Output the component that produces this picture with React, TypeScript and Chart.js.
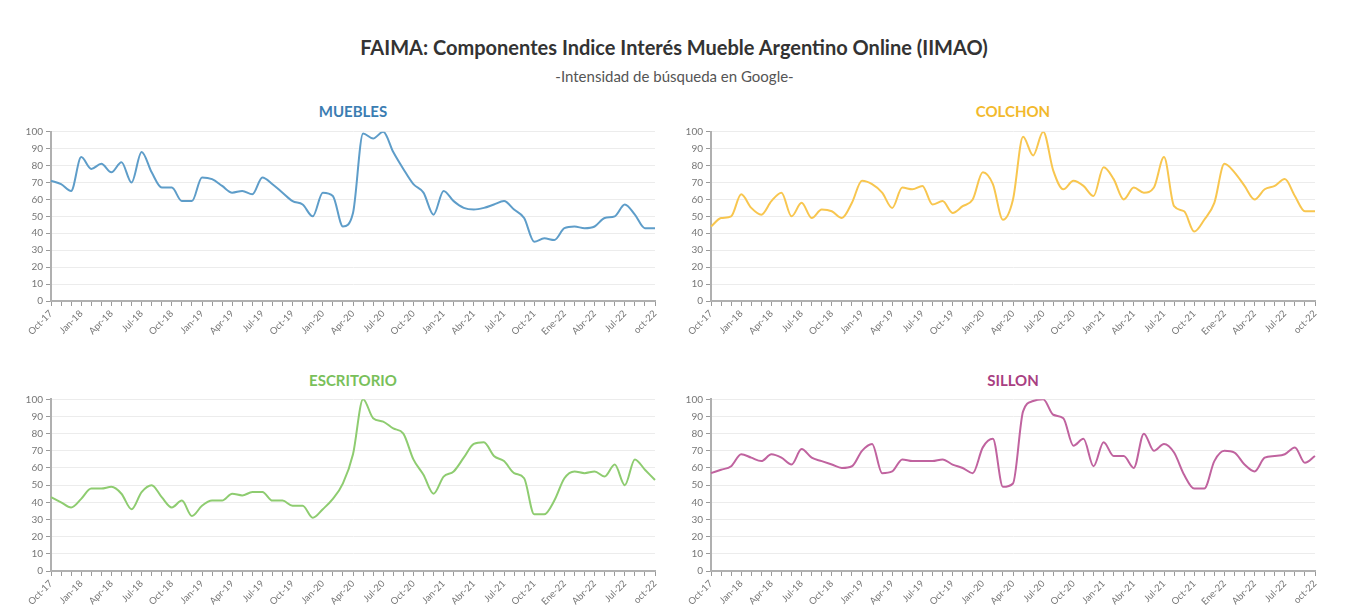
import React, { useEffect, useRef } from "react";
import { Chart, registerables } from "chart.js";

Chart.register(...registerables);

const categories = [
  "Oct-17","Nov-17","Dec-17","Jan-18","Feb-18","Mar-18","Apr-18","May-18","Jun-18","Jul-18",
  "Aug-18","Sep-18","Oct-18","Nov-18","Dec-18","Jan-19","Feb-19","Mar-19","Apr-19","May-19",
  "Jun-19","Jul-19","Aug-19","Sep-19","Oct-19","Nov-19","Dec-19","Jan-20","Feb-20","Mar-20",
  "Apr-20","May-20","Jun-20","Jul-20","Aug-20","Sep-20","Oct-20","Nov-20","Dec-20","Jan-21",
  "Feb-21","Mar-21","Abr-21","May-21","Jun-21","Jul-21","Ago-21","Sep-21","Oct-21","Nov-21",
  "Dic-21","Ene-22","Feb-22","Mar-22","Abr-22","May-22","Jun-22","Jul-22","Ago-22","Sep-22",
  "oct-22",
];

const muebles = [71,69,65,85,78,81,76,82,70,88,76,67,67,59,59,73,72,68,64,65,63,73,69,64,59,57,50,64,62,44,52,99,96,100,88,78,69,64,51,65,59,55,54,55,57,59,54,49,35,37,36,43,44,43,44,49,50,57,51,43,43];
const colchon = [44,49,50,63,55,51,59,64,50,58,49,54,53,49,58,71,69,64,55,67,66,68,57,59,52,56,60,76,69,48,60,97,86,100,77,66,71,68,62,79,72,60,67,64,67,85,56,53,41,48,58,81,76,68,60,66,68,72,62,53,53];
const escritorio = [43,40,37,42,48,48,49,45,36,46,50,43,37,41,32,38,41,41,45,44,46,46,41,41,38,38,31,36,42,51,68,100,89,87,83,80,65,56,45,55,58,66,74,75,67,64,57,54,33,33,41,54,58,57,58,55,62,50,65,59,53];
const sillon = [57,59,61,68,66,64,68,66,62,71,66,64,62,60,61,70,74,57,58,65,64,64,64,65,62,60,57,72,77,49,51,93,99,100,91,89,73,77,61,75,67,67,60,80,70,74,69,56,48,48,64,70,69,62,58,66,67,68,72,63,67];

const FONT = "Lato, 'Open Sans', sans-serif";
const CANVAS_W = 670;

type PanelProps = {
  title: string;
  titleColor: string;
  lineColor: string;
  values: number[];
  left: number;
  top: number;
  height: number;
  padTop: number;
};

function Panel({ title, titleColor, lineColor, values, left, top, height, padTop }: PanelProps) {
  const ref = useRef<HTMLCanvasElement | null>(null);
  useEffect(() => {
    if (!ref.current) return;
    const chart = new Chart(ref.current, {
      type: "line",
      data: {
        labels: categories,
        datasets: [
          {
            label: title,
            data: values,
            borderColor: lineColor,
            borderWidth: 2,
            pointRadius: 0,
            fill: false,
            cubicInterpolationMode: "monotone",
          },
        ],
      },
      options: {
        animation: false,
        responsive: false,
        maintainAspectRatio: false,
        layout: { padding: { right: 15, left: 0, top: padTop, bottom: 0 } },
        plugins: {
          legend: { display: false },
          tooltip: { enabled: false },
          title: { display: false },
        },
        scales: {
          x: {
            offset: false,
            afterFit: (s: any) => {
              s.height = 50;
            },
            grid: {
              drawOnChartArea: false,
              drawTicks: true,
              tickLength: 5,
              tickColor: "#9a9a9a",
            },
            border: { display: true, color: "#b0b0b0", width: 2 },
            ticks: {
              autoSkip: false,
              minRotation: 45,
              maxRotation: 45,
              color: "#777",
              padding: 2,
              font: { family: FONT, size: 9.5 },
              callback: (_v: any, i: number) => (i % 3 === 0 ? categories[i] : ""),
            },
          },
          y: {
            min: 0,
            max: 100,
            afterFit: (s: any) => {
              s.width = 51;
            },
            grid: {
              color: "#ececec",
              drawTicks: true,
              tickLength: 5,
              tickColor: "#9a9a9a",
            },
            border: { display: true, color: "#b0b0b0", width: 2 },
            ticks: {
              stepSize: 10,
              color: "#777",
              padding: 3,
              font: { family: FONT, size: 10 },
            },
          },
        },
      },
    });
    return () => chart.destroy();
  }, []);
  return (
    <>
      <div
        style={{
          position: "absolute",
          left: left + 51,
          width: 604,
          top: top + 7,
          textAlign: "center",
          fontSize: 15,
          fontWeight: "bold",
          lineHeight: "18px",
          color: titleColor,
        }}
      >
        {title}
      </div>
      <div style={{ position: "absolute", left, top, width: CANVAS_W, height }}>
        <canvas ref={ref} width={CANVAS_W} height={height} style={{ width: CANVAS_W, height }} />
      </div>
    </>
  );
}

export default function App() {
  useEffect(() => {
    document.body.style.margin = "0";
    document.body.style.overflow = "hidden";
  }, []);
  return (
    <div
      style={{
        position: "relative",
        width: 1369,
        height: 610,
        overflow: "hidden",
        background: "#ffffff",
        fontFamily: FONT,
      }}
    >
      <div
        style={{
          position: "absolute",
          left: 0,
          width: 1348,
          top: 34,
          textAlign: "center",
          fontSize: 20,
          fontWeight: "bold",
          color: "#333",
          lineHeight: "26px",
        }}
      >
        FAIMA: Componentes Indice Interés Mueble Argentino Online (IIMAO)
      </div>
      <div
        style={{
          position: "absolute",
          left: 0,
          width: 1349,
          top: 66,
          textAlign: "center",
          fontSize: 15,
          color: "#555",
          lineHeight: "20px",
        }}
      >
        -Intensidad de búsqueda en Google-
      </div>
      <Panel title="MUEBLES" titleColor="#3b7db2" lineColor="#5e9dc9" values={muebles} left={0} top={95} height={256} padTop={36.7} />
      <Panel title="COLCHON" titleColor="#f2b92c" lineColor="#f8c64f" values={colchon} left={660} top={95} height={256} padTop={36.7} />
      <Panel title="ESCRITORIO" titleColor="#79c05a" lineColor="#8ecc70" values={escritorio} left={0} top={364} height={257} padTop={35.3} />
      <Panel title="SILLON" titleColor="#a93f82" lineColor="#c0639f" values={sillon} left={660} top={364} height={257} padTop={35.3} />
    </div>
  );
}
